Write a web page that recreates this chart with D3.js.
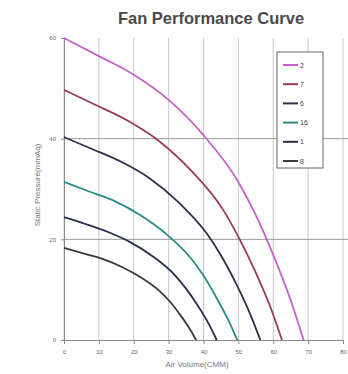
<!DOCTYPE html>
<html><head><meta charset="utf-8">
<script src="https://cdn.jsdelivr.net/npm/d3@7"></script>
<style>html,body{margin:0;padding:0;background:#fff;}svg{display:block;}</style>
</head><body>
<script>
// ---- data ----
const title = "Fan Performance Curve";
const xLabel = "Air Volume(CMM)";
const yLabel = "Static Pressure(mmAq)";
const xTicks = [0,10,20,30,40,50,60,70,80];
const yTicks = [0,20,40,60];
const seriesNames = ["2","7","6","16","1","8"];
const seriesColors = ["#c860c8","#9c3a55","#2e3048","#2a8c86","#27304f","#3a3a3a"];
const q1 = [0,10,20,30,40,50,55,60,65,68.7];
const p1 = [60,56.4,52.7,47.7,40.7,31.4,24.8,16.9,7.9,0];
const q2 = [0,9.1,18.2,27.3,36.4,45.5,50,54.6,59.2,62.5];
const p2 = [49.7,46.7,43.6,39.5,33.7,26.0,20.5,14.0,6.5,0];
const q3 = [0,8.2,16.4,24.6,32.8,41,45.1,49.2,53.3,56.3];
const p3 = [40.3,37.9,35.4,32.1,27.4,21.1,16.7,11.4,5.3,0];
const q4 = [0,7.2,14.5,21.7,28.9,36.2,39.8,43.4,47,49.7];
const p4 = [31.4,29.5,27.6,24.9,21.3,16.4,13.0,8.8,4.1,0];
const q5 = [0,6.4,12.8,19.1,25.5,31.9,35.1,38.3,41.5,43.8];
const p5 = [24.4,23.0,21.4,19.4,16.6,12.8,10.1,6.9,3.2,0];
const q6 = [0,5.5,11,16.6,22.1,27.6,30.4,33.1,35.9,37.9];
const p6 = [18.3,17.2,16.1,14.5,12.4,9.6,7.6,5.2,2.4,0];
const seriesQ = [q1,q2,q3,q4,q5,q6];
const seriesP = [p1,p2,p3,p4,p5,p6];

// ---- drawing ----
const W = 348, H = 374;
const FONT = "Liberation Sans, Arial, sans-serif";
const svg = d3.select("body").append("svg").attr("width", W).attr("height", H);
const x = d3.scaleLinear().domain([0,80]).range([64,343]);
const y = d3.scaleLinear().domain([0,60]).range([340,38]);

// vertical grid
svg.append("g").selectAll("line").data(xTicks).join("line")
  .attr("x1", d=>x(d)).attr("x2", d=>x(d)).attr("y1", y(60)).attr("y2", y(0))
  .attr("stroke", "#c8c8c8").attr("stroke-width", 1);
// horizontal grid
svg.append("g").selectAll("line").data(yTicks.filter(d=>d>0 && d<60)).join("line")
  .attr("x1", x(0)).attr("x2", W).attr("y1", d=>y(d)).attr("y2", d=>y(d))
  .attr("stroke", "#9a9a9a").attr("stroke-width", 1);

// axes
const xAxis = svg.append("g").attr("transform", `translate(0,${y(0)})`)
  .call(d3.axisBottom(x).tickValues(xTicks).tickSize(4).tickPadding(6));
const yAxis = svg.append("g").attr("transform", `translate(${x(0)},0)`)
  .call(d3.axisLeft(y).tickValues(yTicks).tickSize(3).tickPadding(5));
[xAxis, yAxis].forEach(a => {
  a.selectAll("path").attr("stroke", "#8a8a8a");
  a.selectAll("line").attr("stroke", "#8a8a8a");
  a.selectAll("text").attr("fill", "#666").attr("font-size", 6).attr("font-family", FONT);
});

// curves
const line = d3.line().x(d=>x(d[0])).y(d=>y(d[1])).curve(d3.curveMonotoneX);
seriesQ.forEach((qs, i) => {
  const pts = qs.map((q, j) => [q, seriesP[i][j]]);
  svg.append("path").datum(pts).attr("d", line)
    .attr("fill", "none").attr("stroke", seriesColors[i]).attr("stroke-width", 1.8);
});

// title & labels
svg.append("text").attr("x", 211).attr("y", 24).attr("text-anchor", "middle")
  .attr("font-family", FONT).attr("font-weight", "bold")
  .attr("font-size", 16.5).attr("fill", "#4a4a4a").text(title);
svg.append("text").attr("x", 197).attr("y", 367).attr("text-anchor", "middle")
  .attr("font-family", FONT).attr("font-size", 8)
  .attr("fill", "#777").text(xLabel);
svg.append("text").attr("transform", "translate(40,185) rotate(-90)").attr("text-anchor", "middle")
  .attr("font-family", FONT).attr("font-size", 8)
  .attr("fill", "#777").text(yLabel);

// legend
const lg = svg.append("g");
lg.append("rect").attr("x", 277).attr("y", 52).attr("width", 46).attr("height", 116)
  .attr("fill", "#fff").attr("stroke", "#666").attr("stroke-width", 1);
const ly = d3.scalePoint().domain(seriesNames).range([65, 161]);
seriesNames.forEach((n, i) => {
  lg.append("line").attr("x1", 283).attr("x2", 298).attr("y1", ly(n)).attr("y2", ly(n))
    .attr("stroke", seriesColors[i]).attr("stroke-width", 2);
  lg.append("text").attr("x", 300).attr("y", ly(n) + 2.5)
    .attr("font-family", FONT).attr("font-size", 7)
    .attr("fill", "#444").text(n);
});
</script>
</body></html>
